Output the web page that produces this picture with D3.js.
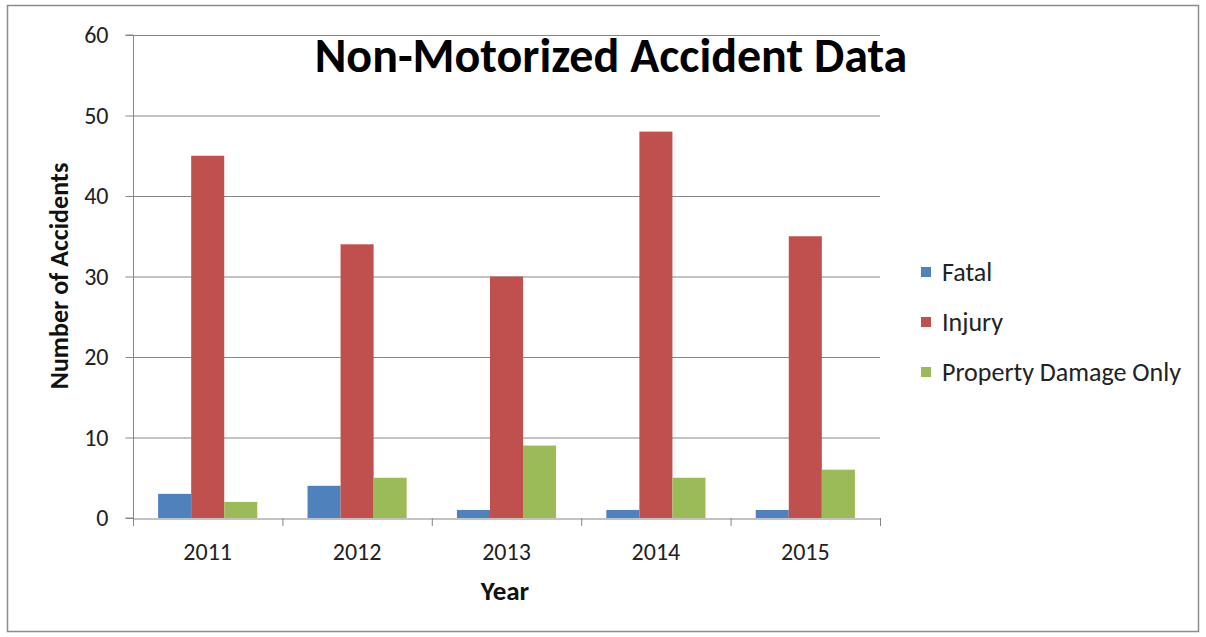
<!DOCTYPE html>
<html><head><meta charset="utf-8">
<script src="https://cdn.jsdelivr.net/npm/d3@7"></script>
<style>body{margin:0;background:#fff;}svg{display:block;}</style>
</head><body>
<svg id="c" width="1206" height="637"></svg>
<script>
const years = ["2011","2012","2013","2014","2015"];
const seriesNames = ["Fatal","Injury","Property Damage Only"];
const fatal = [3,4,1,1,1];
const injury = [45,34,30,48,35];
const property = [2,5,9,5,6];
const yTicks = [0,10,20,30,40,50,60];
const colors = ["#4f81bd","#c0504d","#9bbb59"];
const seriesValues = [fatal, injury, property];

const font = "Carlito, Lato, 'Open Sans', sans-serif";
const svg = d3.select("#c");
const m = {left:133, right:880, top:35, bottom:518};

svg.append("rect").attr("x",7.5).attr("y",5.5).attr("width",1191).attr("height",626)
  .attr("fill","#fff").attr("stroke","#8c8c8c").attr("stroke-width",1.5);

const x = d3.scaleBand().domain(years).range([m.left,m.right]).paddingInner(0).paddingOuter(0);
const xs = d3.scaleBand().domain(seriesNames).range([0,x.bandwidth()]).paddingInner(0).paddingOuter(0.76);
const y = d3.scaleLinear().domain([0,60]).range([m.bottom,m.top]);

// gridlines
svg.append("g").selectAll("line").data(yTicks.filter(d=>d>0)).join("line")
  .attr("x1",m.left).attr("x2",m.right).attr("y1",d=>y(d)+0.5).attr("y2",d=>y(d)+0.5)
  .attr("stroke","#868686").attr("stroke-width",1);

// bars
const g = svg.append("g");
years.forEach((yr,i)=>{
  seriesNames.forEach((s,j)=>{
    const v = seriesValues[j][i];
    g.append("rect").attr("x",x(yr)+xs(s)).attr("width",xs.bandwidth())
      .attr("y",y(v)).attr("height",y(0)-y(v)).attr("fill",colors[j]);
  });
});

// y axis
const ya = svg.append("g").attr("transform",`translate(${m.left+0.5},0)`)
  .call(d3.axisLeft(y).tickValues(yTicks).tickSize(8).tickPadding(17));
ya.select(".domain").attr("stroke","#868686").attr("d",`M-8,${m.bottom}H0V${m.top}H-8`);
ya.selectAll(".tick line").attr("stroke","#868686");
ya.selectAll("text").attr("font-family",font).attr("font-size",24).attr("fill","#222");

// x axis
const xa = svg.append("g").attr("transform",`translate(0,${m.bottom+0.5})`)
  .call(d3.axisBottom(x).tickSize(0).tickPadding(24));
xa.select(".domain").attr("stroke","#868686");
xa.selectAll("text").attr("font-family",font).attr("font-size",24).attr("fill","#222");
svg.append("g").selectAll("line").data(years.concat(["end"])).join("line")
  .attr("x1",(d,i)=>m.left+i*x.step()+0.5).attr("x2",(d,i)=>m.left+i*x.step()+0.5)
  .attr("y1",m.bottom).attr("y2",m.bottom+8).attr("stroke","#868686");

// title
svg.append("text").attr("x",611).attr("y",72).attr("text-anchor","middle")
  .attr("font-family",font).attr("font-weight","bold").attr("font-size",48).attr("fill","#000")
  .text("Non-Motorized Accident Data");

// axis titles
svg.append("text").attr("transform","translate(68,276) rotate(-90)").attr("text-anchor","middle")
  .attr("font-family",font).attr("font-weight","bold").attr("font-size",26).attr("fill","#111")
  .text("Number of Accidents");
svg.append("text").attr("x",505).attr("y",600).attr("text-anchor","middle")
  .attr("font-family",font).attr("font-weight","bold").attr("font-size",27).attr("fill","#111")
  .text("Year");

// legend
const lg = svg.append("g");
const legY = [272,322,372];
seriesNames.forEach((s,j)=>{
  lg.append("rect").attr("x",921).attr("y",legY[j]-5).attr("width",10).attr("height",10).attr("fill",colors[j]);
  lg.append("text").attr("x",942).attr("y",legY[j]+9).attr("font-family",font).attr("font-size",26)
    .attr("fill","#222").text(s);
});
</script>
</body></html>
